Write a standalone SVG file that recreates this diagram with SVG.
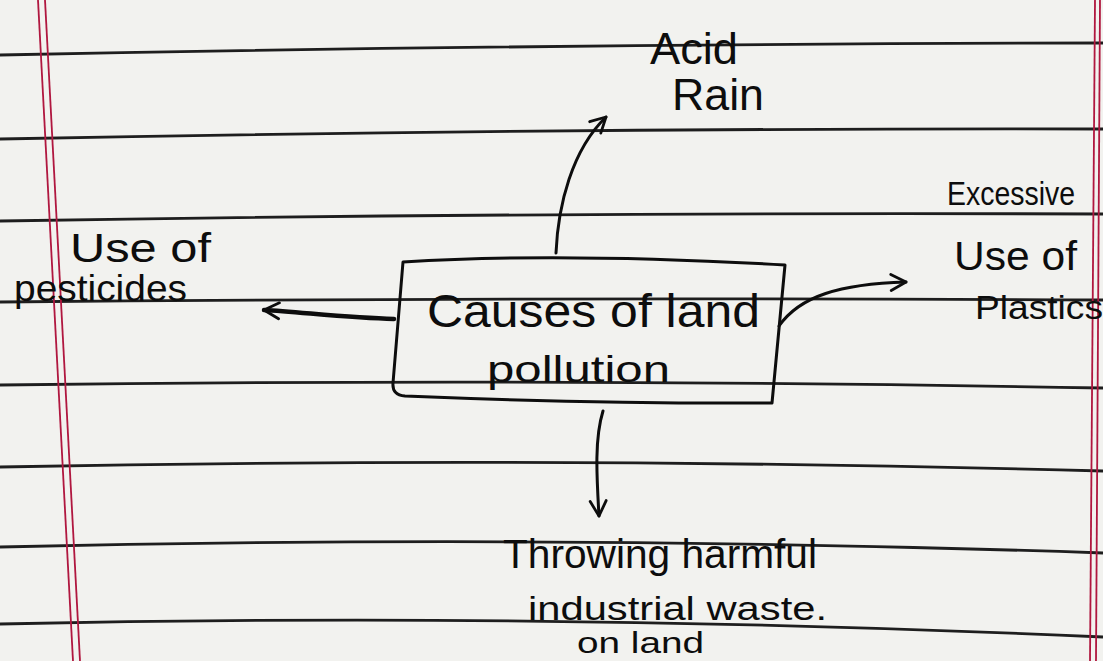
<svg xmlns="http://www.w3.org/2000/svg" width="1103" height="661" viewBox="0 0 1103 661">
  <style>
    .rule { fill: none; stroke: #1e1e1e; stroke-width: 2.8; }
    .margin { fill: none; stroke: #b0173f; stroke-width: 1.8; }
    .ink { fill: none; stroke: #0d0d0d; stroke-width: 3; stroke-linecap: round; stroke-linejoin: round; }
    .hand { font-family: "Liberation Sans", "DejaVu Sans", sans-serif; fill: #0d0d0d; }
  </style>
  <defs>
    <marker id="arrow" viewBox="0 0 20 20" refX="17" refY="10" markerWidth="20" markerHeight="20" markerUnits="userSpaceOnUse" orient="auto">
      <path d="M2,2 L17,10 L2,18" fill="none" stroke="#0d0d0d" stroke-width="2.8" stroke-linecap="round" stroke-linejoin="round"/>
    </marker>
  </defs>

  <!-- paper -->
  <rect x="0" y="0" width="1103" height="661" fill="#f2f2ef"/>
  <g id="ruled-lines">
    <path class="rule" d="M0,55 Q550,44 1103,43"/>
    <path class="rule" d="M0,139 Q550,128 1103,129"/>
    <path class="rule" d="M0,221 Q550,212 1103,214"/>
    <path class="rule" d="M0,302 Q550,297 1103,300"/>
    <path class="rule" d="M0,385 Q550,378 1103,388"/>
    <path class="rule" d="M0,467 Q550,456 1103,471"/>
    <path class="rule" d="M0,547 Q550,534 1103,553"/>
    <path class="rule" d="M0,624 Q550,612 1103,637"/>
  </g>
  <g id="margins">
    <line class="margin" x1="38" y1="0" x2="73" y2="661"/>
    <line class="margin" x1="45" y1="0" x2="80" y2="661"/>
    <line class="margin" x1="1095" y1="0" x2="1090" y2="661"/>
    <line class="margin" x1="1100" y1="0" x2="1096" y2="661"/>
  </g>

  <g id="connectors">
    <path class="ink" d="M556,253 C558,205 572,150 606,117" marker-end="url(#arrow)"/>
    <path class="ink" style="stroke-width:4.5" d="M394,319 C350,318 300,312 264,310" marker-end="url(#arrow)"/>
    <path class="ink" d="M779,326 C800,296 840,284 906,282" marker-end="url(#arrow)"/>
    <path class="ink" d="M603,411 C594,440 597,480 599,516" marker-end="url(#arrow)"/>
  </g>

  <g id="node-center">
    <path class="ink" d="M403,262 Q560,252 785,265 L772,403 Q600,404 405,396 Q392,395 393,383 L403,262 Z"/>
    <text class="hand" x="427" y="327" font-size="46" textLength="333" lengthAdjust="spacingAndGlyphs">Causes of land</text>
    <text class="hand" x="487" y="382" font-size="36" textLength="183" lengthAdjust="spacingAndGlyphs">pollution</text>
  </g>

  <g id="node-acid-rain">
    <text class="hand" x="650" y="64" font-size="44" textLength="88" lengthAdjust="spacingAndGlyphs">Acid</text>
    <text class="hand" x="672" y="110" font-size="44" textLength="92" lengthAdjust="spacingAndGlyphs">Rain</text>
  </g>

  <g id="node-plastics">
    <text class="hand" x="947" y="205" font-size="34" textLength="128" lengthAdjust="spacingAndGlyphs">Excessive</text>
    <text class="hand" x="954" y="270" font-size="40" textLength="123" lengthAdjust="spacingAndGlyphs">Use of</text>
    <text class="hand" x="975" y="319" font-size="34" textLength="128" lengthAdjust="spacingAndGlyphs">Plastics</text>
  </g>

  <g id="node-pesticides">
    <text class="hand" x="70" y="262" font-size="40" textLength="141" lengthAdjust="spacingAndGlyphs">Use of</text>
    <text class="hand" x="14" y="301" font-size="36" textLength="173" lengthAdjust="spacingAndGlyphs">pesticides</text>
  </g>

  <g id="node-waste">
    <text class="hand" x="503" y="568" font-size="40" textLength="314" lengthAdjust="spacingAndGlyphs">Throwing harmful</text>
    <text class="hand" x="528" y="620" font-size="34" textLength="299" lengthAdjust="spacingAndGlyphs">industrial waste.</text>
    <text class="hand" x="577" y="653" font-size="30" textLength="127" lengthAdjust="spacingAndGlyphs">on land</text>
  </g>
</svg>
